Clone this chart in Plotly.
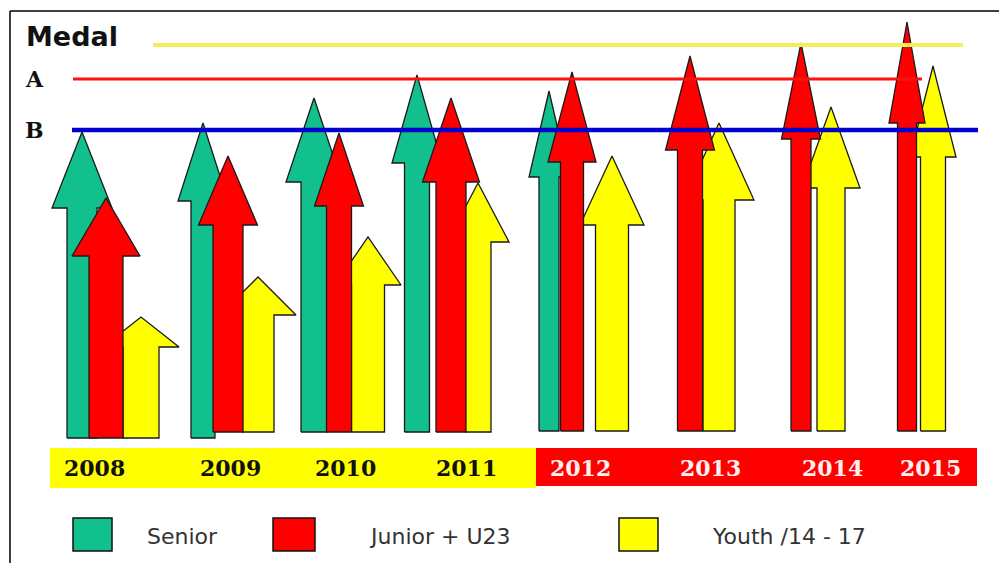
import plotly.graph_objects as go

# ---------------- data ----------------
years = ["2008", "2009", "2010", "2011", "2012", "2013", "2014", "2015"]
senior = [306, 315, 340, 363, 347, None, None, None]
junior = [240, 282, 305, 340, 366, 382, 395, 416]
youth = [121, 161, 201, 255, 282, 315, 331, 372]

level_names = ["Medal", "A", "B"]
level_values = [393, 359, 308]

legend_names = ["Senior", "Junior + U23", "Youth /14 - 17"]

# ---------------- geometry / styles (not data) ----------------
BASE = 438  # pixel row of value 0
W, H = 999, 563

geom = {
    "senior": dict(cx=[82, 203, 314, 417, 549, None, None, None],
                   sw=[30, 24, 26, 25, 20, 0, 0, 0],
                   hw=[60, 50, 56, 50, 40, 0, 0, 0],
                   hh=[76, 78, 84, 88, 86, 0, 0, 0],
                   b0=[0, 0, 6, 6, 7, 0, 0, 0]),
    "junior": dict(cx=[106, 228, 339, 451, 572, 690, 801, 907],
                   sw=[34, 30, 25, 30, 23, 25, 20, 19],
                   hw=[68, 59, 49, 57, 48, 49, 39, 36],
                   hh=[58, 69, 73, 84, 90, 94, 96, 101],
                   b0=[0, 6, 6, 6, 7, 7, 7, 7]),
    "youth": dict(cx=[141, 258, 368, 478, 612, 719, 831, 933],
                  sw=[36, 32, 33, 26, 33, 32, 28, 25],
                  hw=[76, 76, 66, 62, 64, 70, 58, 46],
                  hh=[30, 38, 48, 59, 69, 77, 81, 91],
                  b0=[0, 6, 6, 6, 7, 7, 7, 7]),
}
colors = {"senior": "#12C08E", "junior": "#FF0000", "youth": "#FFFF00"}
level_colors = ["#F0F05A", "#FF1010", "#0000CC"]
level_widths = [4, 3, 4.5]
level_x = [(153, 963), (73, 922), (72, 978)]


def py(pix):
    return BASE - pix


fig = go.Figure()


def add_arrows(key, values):
    g = geom[key]
    for i, v in enumerate(values):
        if v is None:
            continue
        cx, sw, hw, hh, b0 = g["cx"][i], g["sw"][i], g["hw"][i], g["hh"][i], g["b0"][i]
        hb = v - hh
        xs = [cx - sw / 2, cx - sw / 2, cx - hw / 2, cx, cx + hw / 2, cx + sw / 2, cx + sw / 2, cx - sw / 2]
        ys = [b0, hb, hb, v, hb, hb, b0, b0]
        fig.add_trace(go.Scatter(x=xs, y=ys, mode="lines", fill="toself",
                                 fillcolor=colors[key],
                                 line=dict(color="#1a1a1a", width=1.3),
                                 hoverinfo="skip", showlegend=False))


add_arrows("senior", senior)
add_arrows("youth", youth)
add_arrows("junior", junior)

# reference levels
for name, val, col, lw, (x0, x1) in zip(level_names, level_values, level_colors, level_widths, level_x):
    fig.add_trace(go.Scatter(x=[x0, x1], y=[val, val], mode="lines",
                             line=dict(color=col, width=lw),
                             hoverinfo="skip", showlegend=False))

annotations = []
shapes = []

# level labels
annotations.append(dict(x=24, y=py(36), text="<b>Medal</b>", showarrow=False,
                        xanchor="left", yanchor="middle",
                        font=dict(family="DejaVu Sans", size=27, color="#111")))
annotations.append(dict(x=23, y=py(79), text="<b>A</b>", showarrow=False,
                        xanchor="left", yanchor="middle",
                        font=dict(family="DejaVu Serif", size=22, color="#111")))
annotations.append(dict(x=23, y=py(130), text="<b>B</b>", showarrow=False,
                        xanchor="left", yanchor="middle",
                        font=dict(family="DejaVu Serif", size=22, color="#111")))

# year band
shapes.append(dict(type="rect", x0=50, x1=536, y0=py(448), y1=py(488),
                   fillcolor="#FFFF00", line=dict(width=0), layer="below"))
shapes.append(dict(type="rect", x0=536, x1=977, y0=py(448), y1=py(486),
                   fillcolor="#FF0000", line=dict(width=0), layer="below"))
year_x = [94, 230, 345, 466, 580, 710, 832, 930]
for i, (yr, xc) in enumerate(zip(years, year_x)):
    annotations.append(dict(x=xc, y=py(468), text="<b>%s</b>" % yr, showarrow=False,
                            xanchor="center", yanchor="middle",
                            font=dict(family="DejaVu Serif", size=22,
                                      color="#111" if i < 4 else "#FFF0F0")))

# legend
leg_sq = [(73, 112), (273, 315), (619, 658)]
leg_tx = [145, 367, 710]
for (x0, x1), tx, name, key in zip(leg_sq, leg_tx, legend_names, ["senior", "junior", "youth"]):
    shapes.append(dict(type="rect", x0=x0, x1=x1, y0=py(551), y1=py(518),
                       fillcolor=colors[key], line=dict(color="#111", width=1.5)))
    annotations.append(dict(x=tx, y=py(536), text=name, showarrow=False,
                            xanchor="left", yanchor="middle",
                            font=dict(family="DejaVu Sans", size=22, color="#333")))

# frame (left + top)
shapes.append(dict(type="line", x0=10, x1=10, y0=py(11), y1=py(563),
                   line=dict(color="#000", width=1.5)))
shapes.append(dict(type="line", x0=10, x1=999, y0=py(11), y1=py(11),
                   line=dict(color="#000", width=1.5)))

fig.update_layout(
    width=W, height=H,
    margin=dict(l=0, r=0, t=0, b=0),
    paper_bgcolor="white", plot_bgcolor="white",
    xaxis=dict(range=[0, W], visible=False, fixedrange=True),
    yaxis=dict(range=[py(H), py(0)], visible=False, fixedrange=True),
    showlegend=False,
    annotations=annotations,
    shapes=shapes,
)

fig.write_html("out.html")
